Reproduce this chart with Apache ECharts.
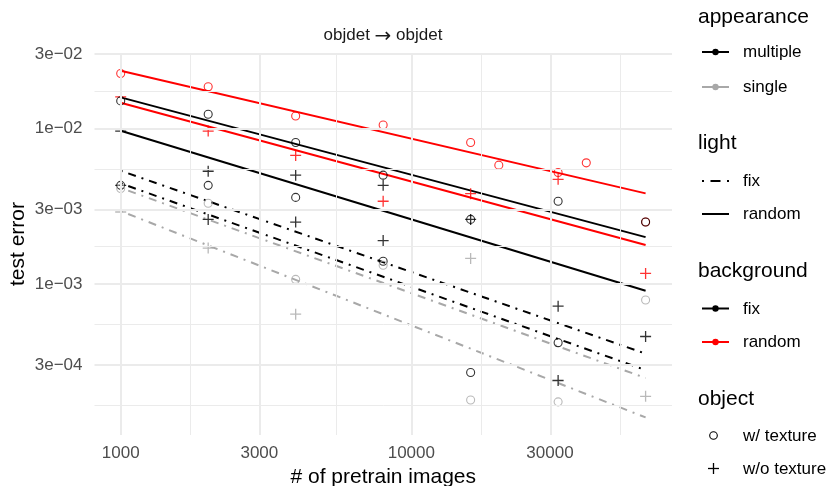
<!DOCTYPE html>
<html>
<head>
<meta charset="utf-8">
<script src="https://cdn.jsdelivr.net/npm/echarts@6/dist/echarts.min.js"></script>
<style>
  html, body { margin: 0; padding: 0; background: #ffffff; }
  #chart { width: 831px; height: 486px; }
</style>
</head>
<body>
<div id="chart"></div>
<script>
// ---- pretraining set sizes ----
const sizes = [1000, 2000, 4000, 8000, 16000, 32000, 64000];
const sizesDense = [1000, 2000, 4000, 8000, 16000, 20000, 32000, 40000, 64000];
const fitRange = [1000, 64000];

// ---- test error, appearance: multiple, light: random, background: random ----
const randBgTex   = [0.0225, 0.0185, 0.0120, 0.0105, 0.0081, 0.0058, 0.0052, 0.0060, 0.0025];
const randBgNoTex = [0.0159, 0.0096, 0.0067, 0.0034, 0.0038, 0.0047, 0.00117];
// ---- appearance: multiple, light: random, background: fix ----
const fixBgTex    = [0.0150, 0.0123, 0.0081, 0.0050, 0.0026, 0.0034, 0.0025];
const fixBgNoTex  = [0.0096, 0.0053, 0.0050, 0.0043, 0.0026, 0.00072, 0.00046];
// ---- appearance: multiple, light: fix, background: fix ----
const fixLightTex   = [0.0043, 0.0043, 0.0036, 0.0014, 0.00027, 0.00042, null];
const fixLightNoTex = [0.0043, 0.0026, 0.0025, 0.0019, null, 0.00024, null];
// ---- appearance: single, light: fix, background: fix ----
const singleTex   = [0.0041, 0.0033, 0.00107, 0.00132, 0.00018, 0.000175, 0.00079];
const singleNoTex = [0.0029, 0.0017, 0.00064, null, 0.00146, null, 0.00019];

// ---- log-log regression lines, value at 1000 and at 64000 images ----
const fitRandBgTex     = [0.0234, 0.00382];
const fitRandBgNoTex   = [0.0146, 0.00178];
const fitFixBgTex      = [0.0158, 0.00200];
const fitFixBgNoTex    = [0.00965, 0.000906];
const fitFixLightTex   = [0.00534, 0.000357];
const fitFixLightNoTex = [0.00443, 0.000280];
const fitSingleTex     = [0.00414, 0.000249];
const fitSingleNoTex   = [0.00294, 0.000139];

// ---- axis breaks and visible range ----
const xTicks = [1000, 3000, 10000, 30000];
const xTickLabels = ['1000', '3000', '10000', '30000'];
const yTicks = [3e-4, 1e-3, 3e-3, 1e-2, 3e-2];
const yTickLabels = ['3e\u221204', '1e\u221203', '3e\u221203', '1e\u221202', '3e\u221202'];
const xRange = [812.5, 78890];
const yRange = [0.0001072, 0.03045];

const FONT = '"Liberation Sans", Arial, Helvetica, sans-serif';
const BLACK = '#000000';
const RED = '#FF0000';
const GRAY = '#A8A8A8';
const GRID = '#EBEBEB';
const DOTDASH = [2, 6, 8, 6];
const PLUS_PATH = 'path://M5,0L5,10M0,5L10,5';

// both axes are log10 scaled: values are mapped to log10 before they reach the value axes
const lg = Math.log10;

// minor breaks sit halfway (in log space) between neighbouring major breaks,
// with one extra break extrapolated past each end of the break list
function minorBreaks(major) {
  const n = major.length;
  const ext = [major[0] * major[0] / major[1]].concat(major, [major[n - 1] * major[n - 1] / major[n - 2]]);
  const out = [];
  for (let i = 0; i < ext.length - 1; i++) out.push(Math.sqrt(ext[i] * ext[i + 1]));
  return out;
}

const groups = [
  { xs: sizesDense, ys: randBgTex,   fit: fitRandBgTex,     color: RED,   dash: 'solid', shape: 'circle' },
  { xs: sizes, ys: randBgNoTex,      fit: fitRandBgNoTex,   color: RED,   dash: 'solid', shape: 'plus' },
  { xs: sizes, ys: fixBgTex,         fit: fitFixBgTex,      color: BLACK, dash: 'solid', shape: 'circle' },
  { xs: sizes, ys: fixBgNoTex,       fit: fitFixBgNoTex,    color: BLACK, dash: 'solid', shape: 'plus' },
  { xs: sizes, ys: fixLightTex,      fit: fitFixLightTex,   color: BLACK, dash: DOTDASH, shape: 'circle' },
  { xs: sizes, ys: fixLightNoTex,    fit: fitFixLightNoTex, color: BLACK, dash: DOTDASH, shape: 'plus' },
  { xs: sizes, ys: singleTex,        fit: fitSingleTex,     color: GRAY,  dash: DOTDASH, shape: 'circle' },
  { xs: sizes, ys: singleNoTex,      fit: fitSingleNoTex,   color: GRAY,  dash: DOTDASH, shape: 'plus' }
];

const series = [];

// background grid drawn as mark lines on an empty helper series
const gridLines = [];
xTicks.forEach(v => gridLines.push({ xAxis: lg(v), lineStyle: { width: 2 } }));
minorBreaks(xTicks).forEach(v => gridLines.push({ xAxis: lg(v), lineStyle: { width: 1 } }));
yTicks.forEach(v => gridLines.push({ yAxis: lg(v), lineStyle: { width: 2 } }));
minorBreaks(yTicks).forEach(v => gridLines.push({ yAxis: lg(v), lineStyle: { width: 1 } }));
series.push({
  type: 'line', data: [], z: 0, silent: true,
  markLine: {
    silent: true, symbol: ['none', 'none'], label: { show: false }, animation: false,
    lineStyle: { color: GRID, type: 'solid' },
    emphasis: { disabled: true },
    data: gridLines
  }
});

groups.forEach(g => {
  series.push({
    type: 'line', z: 2, silent: true, symbol: 'none', animation: false,
    data: [[lg(fitRange[0]), lg(g.fit[0])], [lg(fitRange[1]), lg(g.fit[1])]],
    lineStyle: { color: g.color, width: 2, type: g.dash },
    emphasis: { disabled: true }
  });
  const pts = [];
  g.ys.forEach((v, i) => { if (v !== null) pts.push([lg(g.xs[i]), lg(v)]); });
  series.push({
    type: 'scatter', z: 3, silent: true, animation: false,
    data: pts,
    symbol: g.shape === 'circle' ? 'circle' : PLUS_PATH,
    symbolSize: g.shape === 'circle' ? 8 : 11,
    itemStyle: {
      color: 'rgba(0,0,0,0)', borderColor: g.color,
      borderWidth: g.shape === 'circle' ? 1.1 : 1.3
    },
    emphasis: { disabled: true }
  });
});

function nearestLabel(logV, ticks, labels) {
  let best = 0;
  ticks.forEach((t, i) => {
    if (Math.abs(logV - lg(t)) < Math.abs(logV - lg(ticks[best]))) best = i;
  });
  return labels[best];
}

// ---- legend, drawn as graphic elements ----
const KEY_X0 = 702, KEY_X1 = 729, KEY_XC = 715.5, TEXT_X = 743, TITLE_X = 698;
const legendBlocks = [
  { title: 'appearance', y: 17, items: [
    { label: 'multiple', key: 'linedot', color: BLACK },
    { label: 'single', key: 'linedot', color: GRAY } ] },
  { title: 'light', y: 143, items: [
    { label: 'fix', key: 'dotdash', color: BLACK },
    { label: 'random', key: 'line', color: BLACK } ] },
  { title: 'background', y: 271, items: [
    { label: 'fix', key: 'linedot', color: BLACK },
    { label: 'random', key: 'linedot', color: RED } ] },
  { title: 'object', y: 399, items: [
    { label: 'w/ texture', key: 'circle', color: BLACK },
    { label: 'w/o texture', key: 'plus', color: BLACK } ] }
];
const itemKeyOffsets = [[35, 70], [38, 71], [37.5, 71], [36.5, 69.5]];
const graphics = [];
legendBlocks.forEach((b, bi) => {
  graphics.push({
    type: 'text', x: TITLE_X, y: b.y,
    style: { text: b.title, font: '21px ' + FONT, fill: '#000', verticalAlign: 'middle' }
  });
  b.items.forEach((it, i) => {
    const y = b.y + itemKeyOffsets[bi][i];
    if (it.key === 'linedot' || it.key === 'line' || it.key === 'dotdash') {
      graphics.push({
        type: 'line', shape: { x1: KEY_X0, y1: y, x2: KEY_X1, y2: y },
        style: { stroke: it.color, lineWidth: 2, lineDash: it.key === 'dotdash' ? [2, 6.5, 10, 6.5] : null }
      });
    }
    if (it.key === 'linedot') {
      graphics.push({ type: 'circle', shape: { cx: KEY_XC, cy: y, r: 3.2 }, style: { fill: it.color } });
    }
    if (it.key === 'circle') {
      graphics.push({ type: 'circle', shape: { cx: 713.5, cy: y, r: 3.8 }, style: { fill: 'none', stroke: it.color, lineWidth: 1.1 } });
    }
    if (it.key === 'plus') {
      graphics.push({ type: 'line', shape: { x1: 713.5, y1: y - 5.5, x2: 713.5, y2: y + 5.5 }, style: { stroke: it.color, lineWidth: 1.3 } });
      graphics.push({ type: 'line', shape: { x1: 708, y1: y, x2: 719, y2: y }, style: { stroke: it.color, lineWidth: 1.3 } });
    }
    graphics.push({
      type: 'text', x: TEXT_X, y: y + 0.5,
      style: { text: it.label, font: '17px ' + FONT, fill: '#000', verticalAlign: 'middle' }
    });
  });
});

const chart = echarts.init(document.getElementById('chart'), null, { renderer: 'canvas' });
chart.setOption({
  animation: false,
  backgroundColor: '#ffffff',
  title: {
    text: '{t|objdet }{arrow|\u2192}{t| objdet}',
    left: 383, top: 24, textAlign: 'center', padding: 0,
    textStyle: {
      fontFamily: FONT, fontSize: 17, fontWeight: 'normal', color: '#1A1A1A',
      rich: {
        t: { fontFamily: FONT, fontSize: 17, color: '#1A1A1A' },
        arrow: { fontFamily: '"DejaVu Sans", sans-serif', fontSize: 20, color: '#1A1A1A', padding: [3, 0, 0, 0] }
      }
    }
  },
  grid: { left: 94.5, right: 159, top: 53, bottom: 51, containLabel: false, outerBoundsMode: 'none' },
  xAxis: {
    type: 'value', min: lg(xRange[0]), max: lg(xRange[1]),
    name: '# of pretrain images', nameLocation: 'middle', nameGap: 24,
    nameTextStyle: { fontFamily: FONT, fontSize: 21, color: '#000' },
    axisLine: { show: false }, axisTick: { show: false },
    splitLine: { show: false },
    axisLabel: {
      customValues: xTicks.map(lg), margin: 10,
      fontFamily: FONT, fontSize: 17, color: '#4D4D4D',
      formatter: v => nearestLabel(v, xTicks, xTickLabels)
    }
  },
  yAxis: {
    type: 'value', min: lg(yRange[0]), max: lg(yRange[1]),
    name: 'test error', nameLocation: 'middle', nameGap: 66, nameRotate: 90,
    nameMoveOverlap: false,
    nameTextStyle: { fontFamily: FONT, fontSize: 21, color: '#000' },
    axisLine: { show: false }, axisTick: { show: false },
    splitLine: { show: false },
    axisLabel: {
      customValues: yTicks.map(lg), margin: 12,
      fontFamily: FONT, fontSize: 17, color: '#4D4D4D',
      formatter: v => nearestLabel(v, yTicks, yTickLabels)
    }
  },
  graphic: graphics,
  series: series
});
</script>
</body>
</html>
